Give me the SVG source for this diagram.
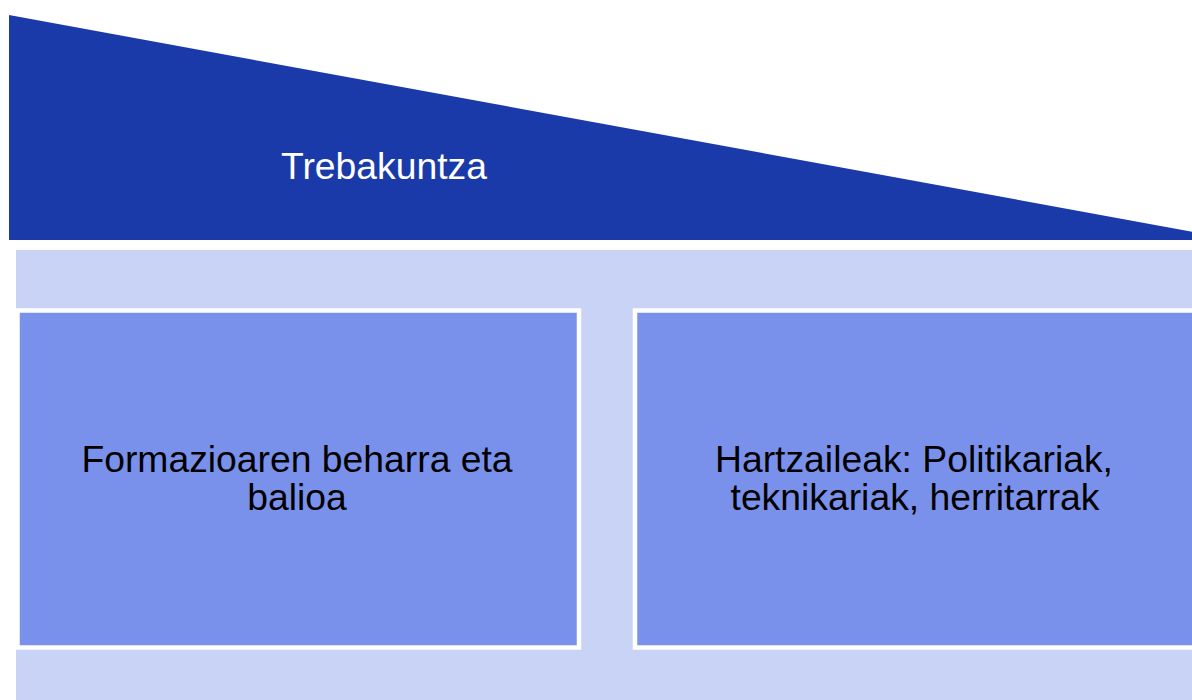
<svg xmlns="http://www.w3.org/2000/svg" width="1192" height="700" viewBox="0 0 1192 700">
<style>
.lbl{font-family:"Liberation Sans",Arial,sans-serif;font-size:37.3px;text-anchor:middle}
.box{fill:#7A91EC;stroke:#FFFFFF;stroke-width:4.5}
</style>
<rect width="1192" height="700" fill="#FFFFFF"/>
<g id="trebakuntza">
<polygon points="9,15 1237,240 9,240" fill="#1B3AA9"/>
<text class="lbl" x="384" y="179" fill="#FFFFFF">Trebakuntza</text>
</g>
<g id="band">
<rect x="16" y="250" width="1190" height="460" fill="#C9D3F5"/>
</g>
<g id="formazioa">
<rect class="box" x="17.5" y="310.5" width="561.5" height="337"/>
<text class="lbl" x="297" y="472" fill="#000000">Formazioaren beharra eta</text>
<text class="lbl" x="297" y="510" fill="#000000">balioa</text>
</g>
<g id="hartzaileak">
<rect class="box" x="635" y="310.5" width="570" height="337"/>
<text class="lbl" x="914" y="472" fill="#000000">Hartzaileak: Politikariak,</text>
<text class="lbl" x="915" y="510" fill="#000000">teknikariak, herritarrak</text>
</g>
<g id="connectors"></g>
</svg>
